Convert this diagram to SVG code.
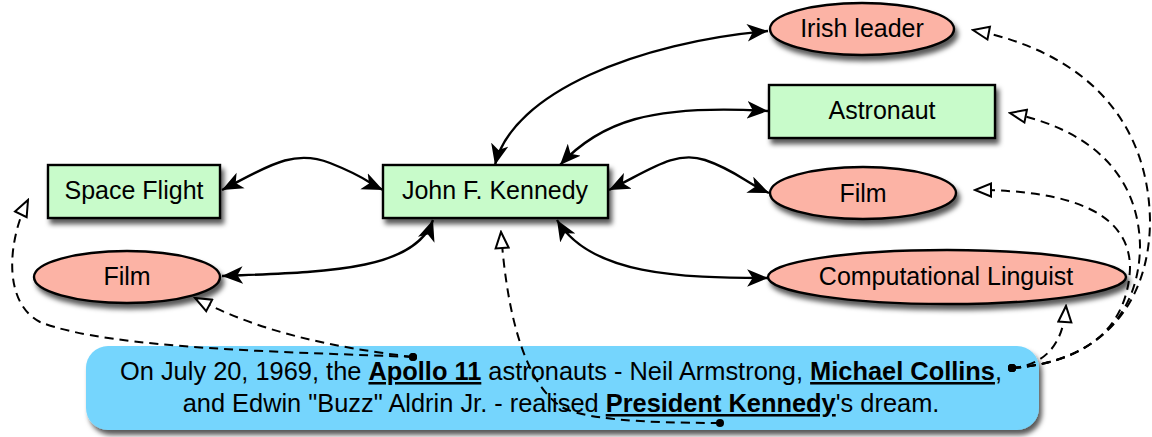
<svg xmlns="http://www.w3.org/2000/svg" width="1152" height="437" viewBox="0 0 1152 437">
<style>
.node{stroke:#000;stroke-width:2.4}
.rect{fill:#c8fbca}
.ell{fill:#fcb3a5}
.lbl{font-family:"Liberation Sans",Arial,Helvetica,sans-serif;font-size:25px;fill:#000;text-anchor:middle}
.big{font-size:25.4px}
.box{fill:#75d5fd;stroke:none}
.solid{fill:none;stroke:#000;stroke-width:2.4;marker-start:url(#fa);marker-end:url(#fa)}
.dash{fill:none;stroke:#000;stroke-width:2;stroke-dasharray:9 6;marker-start:url(#dot);marker-end:url(#ha)}
.b{font-weight:bold;text-decoration:underline}
</style>
<defs>
<filter id="sh" x="-20%" y="-30%" width="140%" height="170%">
<feDropShadow dx="3" dy="5" stdDeviation="2.5" flood-color="#000" flood-opacity="0.65"/>
</filter>
<marker id="fa" markerUnits="userSpaceOnUse" markerWidth="22" markerHeight="18" refX="19" refY="8" orient="auto-start-reverse" viewBox="0 0 20 16">
<path d="M0,0 L19,8 L0,16 L5,8 z" fill="#000" stroke="none"/>
</marker>
<marker id="ha" markerUnits="userSpaceOnUse" markerWidth="20" markerHeight="16" refX="16" refY="6.5" orient="auto" viewBox="-1.5 -1.5 19 16">
<path d="M0,0 L16,6.5 L0,13 z" fill="#fff" stroke="#000" stroke-width="2" stroke-dasharray="none"/>
</marker>
<marker id="dot" markerUnits="userSpaceOnUse" markerWidth="10" markerHeight="10" refX="5" refY="5" viewBox="0 0 10 10">
<circle cx="5" cy="5" r="4" fill="#000"/>
</marker>
</defs>

<g id="text-box" filter="url(#sh)">
<rect class="box" x="86" y="346" width="953" height="84" rx="22"/>
</g>
<g id="text-box-label">
<text class="lbl big" x="561" y="380"><tspan>On July 20, 1969, the </tspan><tspan class="b">Apollo 11</tspan><tspan> astronauts - Neil Armstrong, </tspan><tspan class="b">Michael Collins</tspan><tspan>,</tspan></text>
<text class="lbl big" x="561" y="412"><tspan>and Edwin "Buzz" Aldrin Jr. - realised </tspan><tspan class="b">President Kennedy</tspan><tspan>'s dream.</tspan></text>
</g>

<g id="space-flight">
<rect class="node rect" x="48" y="165" width="172" height="53" filter="url(#sh)"/>
<text class="lbl" x="134" y="199">Space Flight</text>
</g>
<g id="film-left">
<ellipse class="node ell" cx="127" cy="277" rx="93" ry="26" filter="url(#sh)"/>
<text class="lbl" x="127" y="285">Film</text>
</g>
<g id="jfk">
<rect class="node rect" x="383" y="165" width="225" height="53" filter="url(#sh)"/>
<text class="lbl" x="495" y="199">John F. Kennedy</text>
</g>
<g id="irish-leader">
<ellipse class="node ell" cx="862" cy="29" rx="92" ry="26" filter="url(#sh)"/>
<text class="lbl" x="862" y="37">Irish leader</text>
</g>
<g id="astronaut">
<rect class="node rect" x="769" y="85" width="226" height="53" filter="url(#sh)"/>
<text class="lbl" x="882" y="119">Astronaut</text>
</g>
<g id="film-right">
<ellipse class="node ell" cx="863" cy="193" rx="93" ry="26" filter="url(#sh)"/>
<text class="lbl" x="863" y="202">Film</text>
</g>
<g id="computational-linguist">
<ellipse class="node ell" cx="947" cy="277" rx="179" ry="27" filter="url(#sh)"/>
<text class="lbl" x="946" y="285">Computational Linguist</text>
</g>

<g id="connectors">
<path class="solid" d="M222,190 C265,168 292,148 330,163 S370,184 383,190"/>
<path class="solid" d="M222,276 C320,272 415,272 433,220"/>
<path class="solid" d="M495,165 C512,92 640,42 768,31"/>
<path class="solid" d="M560,165 C600,122 650,104 768,111"/>
<path class="solid" d="M609,190 C650,170 675,150 705,160 S748,184 769,193"/>
<path class="solid" d="M557,220 C590,275 680,278 768,278"/>

<path class="dash" d="M413,357 C300,352 110,350 40,322 C2,302 8,240 28,200"/>
<path class="dash" d="M413,357 C330,347 260,332 195,298"/>
<path class="dash" d="M720,423 C640,423 580,419 560,406 C530,385 508,330 501,232"/>
<path class="dash" d="M1012,368 C1042,365 1063,348 1066,306"/>
<path class="dash" d="M1012,368 C1095,362 1128,320 1130,268 C1130,215 1075,190 975,190"/>
<path class="dash" d="M1012,368 C1100,362 1140,310 1140,245 C1138,170 1085,128 1010,113"/>
<path class="dash" d="M1012,368 C1105,362 1150,300 1150,220 C1148,120 1085,52 973,30"/>
</g>
</svg>
